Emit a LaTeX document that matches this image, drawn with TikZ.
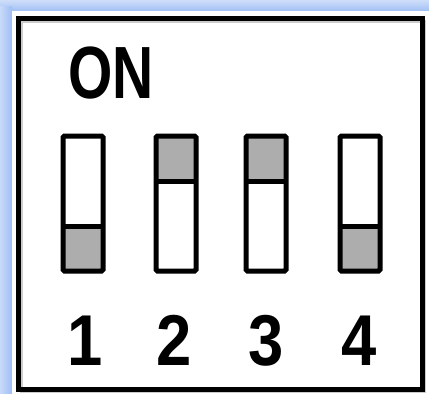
\documentclass[tikz,border=0pt]{standalone}
\usepackage{fontspec}
\setmainfont{Liberation Sans}
\begin{document}
\begin{tikzpicture}[x=1pt,y=-1pt,
  frame/.style={draw=black,line width=5pt,line join=miter},
  sw/.style={draw=black,line width=5pt,rounded corners=1.5pt},
  knob/.style={fill=black!32},
  bigtxt/.style={font=\fontsize{74}{74}\selectfont\bfseries,inner sep=0pt,anchor=base,xscale=0.77},
  digit/.style={font=\fontsize{72}{72}\selectfont\bfseries,inner sep=0pt,anchor=base,xscale=0.88}]
\useasboundingbox (0,0) rectangle (429,394);
\fill[white] (0,0) rectangle (429,394);
% blue bands
\shade[top color={rgb,255:red,206;green,222;blue,250},bottom color={rgb,255:red,162;green,192;blue,244}] (0,0) rectangle (429,11);
\shade[left color={rgb,255:red,200;green,218;blue,250},right color={rgb,255:red,158;green,190;blue,244}] (0,6) rectangle (12,394);
\fill[white] (12,11) rectangle (429,394);
% outer frame
\draw[black!20,line width=3pt] (21,21) rectangle (424,391);
\draw[frame] (18,18) rectangle (422,389);
% label
\node[bigtxt] (on) at (111,98) {ON};
% switch 1 (down)
\fill[knob] (63,226) rectangle (103,271);
\draw[sw] (63,226) -- (103,226);
\draw[sw] (63,136) rectangle (103,271);
% switch 2 (up)
\fill[knob] (156,136) rectangle (196,181);
\draw[sw] (156,181) -- (196,181);
\draw[sw] (156,136) rectangle (196,271);
% switch 3 (up)
\fill[knob] (246,136) rectangle (286,181);
\draw[sw] (246,181) -- (286,181);
\draw[sw] (246,136) rectangle (286,271);
% switch 4 (down)
\fill[knob] (340,226) rectangle (380,271);
\draw[sw] (340,226) -- (380,226);
\draw[sw] (340,136) rectangle (380,271);
% numbers
\node[digit] (n1) at (85,365) {1};
\node[digit] (n2) at (174,365) {2};
\node[digit] (n3) at (266,365) {3};
\node[digit] (n4) at (359,365) {4};
\end{tikzpicture}
\end{document}
